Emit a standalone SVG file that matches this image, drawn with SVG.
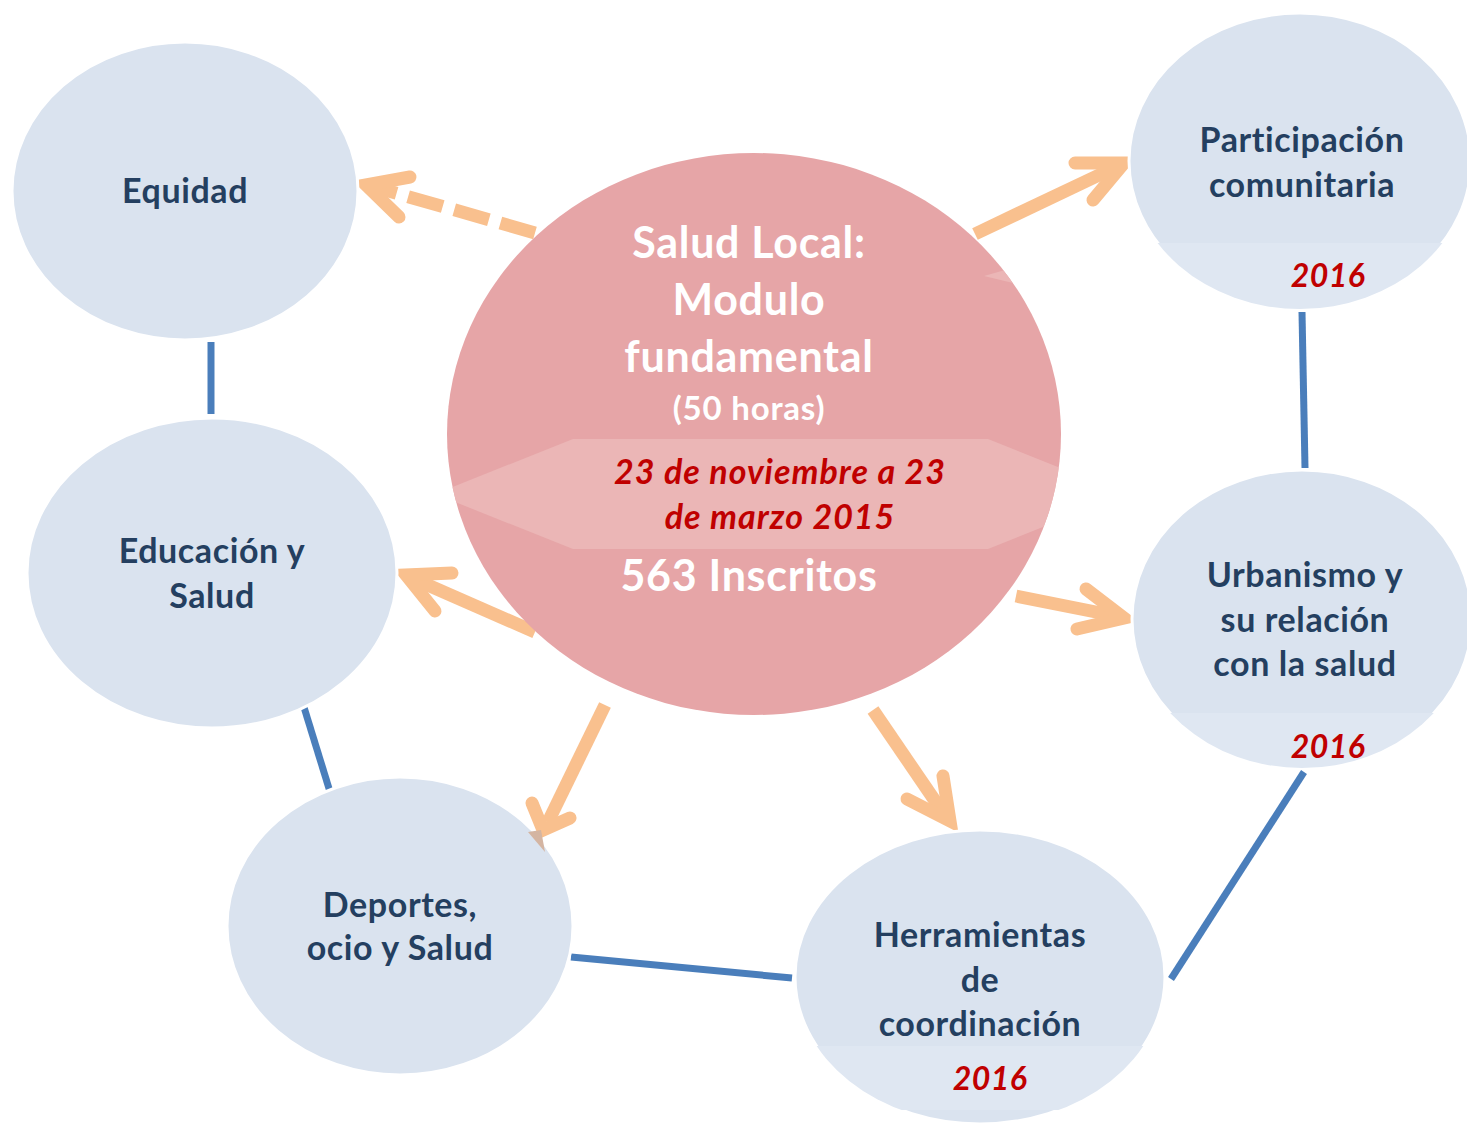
<svg xmlns="http://www.w3.org/2000/svg" width="1467" height="1124" viewBox="0 0 1467 1124">
<style>
  .node { fill: #dae3ef; stroke: #ffffff; stroke-width: 3; }
  .band { fill: #dfe7f2; }
  .lbl { font-family: Lato, "Open Sans", sans-serif; font-weight: 700; font-size: 34px; letter-spacing: 0.6px; fill: #243f60; text-anchor: middle; }
  .yr { font-family: Lato, "Open Sans", sans-serif; font-weight: 700; font-style: italic; font-size: 32px; letter-spacing: 0.4px; fill: #c00000; text-anchor: middle; }
  .ctr { font-family: Lato, "Open Sans", sans-serif; font-weight: 700; font-size: 43px; letter-spacing: 0.7px; fill: #ffffff; text-anchor: middle; }
  .ctrs { font-family: Lato, "Open Sans", sans-serif; font-weight: 700; font-size: 33px; letter-spacing: 0.8px; fill: #ffffff; text-anchor: middle; }
  .date { font-family: Lato, "Open Sans", sans-serif; font-weight: 700; font-style: italic; font-size: 34px; letter-spacing: 1px; fill: #c00000; text-anchor: middle; }
  .link { stroke: #4a7ebb; stroke-width: 7; fill: none; }
  .shaft { stroke: #f9c08e; stroke-width: 13; fill: none; stroke-linecap: butt; }
  .head { stroke: #f9c08e; stroke-width: 13; fill: none; stroke-linecap: round; stroke-linejoin: miter; stroke-miterlimit: 10; }
</style>
<defs>
  <clipPath id="cc"><ellipse cx="754" cy="434" rx="307" ry="281"/></clipPath>
  <clipPath id="cP"><ellipse cx="1300" cy="161" rx="171" ry="148"/></clipPath>
  <clipPath id="cU"><ellipse cx="1302" cy="619" rx="170" ry="149"/></clipPath>
  <clipPath id="cH"><ellipse cx="980" cy="977" rx="185" ry="147"/></clipPath>
</defs>
<rect width="1467" height="1124" fill="#ffffff"/>

<g id="connectors">
  <line class="link" x1="211" y1="342" x2="211" y2="414"/>
  <line class="link" x1="1302" y1="312" x2="1305" y2="468"/>
  <line class="link" x1="303" y1="704" x2="331" y2="795"/>
  <line class="link" x1="571" y1="957" x2="792" y2="978"/>
  <line class="link" x1="1304" y1="772" x2="1171" y2="979"/>

  <line class="shaft" x1="535" y1="233" x2="378" y2="188" stroke-dasharray="36 12"/>
  <polyline class="head" points="410,177 366,185 399,217"/>

  <line class="shaft" x1="975" y1="234" x2="1116" y2="167"/>
  <polyline class="head" points="1075,163 1124,163 1093,200"/>

  <line class="shaft" x1="535" y1="632" x2="414" y2="579"/>
  <polyline class="head" points="452,573 406,575 435,611"/>

  <line class="shaft" x1="605" y1="705" x2="548" y2="822"/>
  <polyline class="head" points="532,803 543,830 570,818"/>

  <line class="shaft" x1="873" y1="710" x2="944" y2="814"/>
  <polyline class="head" points="943,776 950,821 907,799"/>

  <line class="shaft" x1="1016" y1="596" x2="1116" y2="616"/>
  <polyline class="head" points="1086,589 1124,618 1077,629"/>
</g>

<g id="center">
  <ellipse cx="754" cy="434" rx="307" ry="281" fill="#e6a5a7"/>
  <g clip-path="url(#cc)">
    <polygon points="440,492 573,439 988,439 1075,474 1075,514 988,549 573,549 440,496" fill="#ebb6b6"/>
    <polygon points="984,276 1005,270 1013,283" fill="#ebb6b6"/>
  </g>
  <text class="ctr" x="749" y="258">Salud Local:</text>
  <text class="ctr" x="749" y="315">Modulo</text>
  <text class="ctr" x="749" y="372">fundamental</text>
  <text class="ctrs" x="749" y="420">(50 horas)</text>
  <text class="date" x="780" y="484">23 de noviembre a 23</text>
  <text class="date" x="780" y="529">de marzo 2015</text>
  <text class="ctr" x="749" y="591">563 Inscritos</text>
</g>

<g id="equidad">
  <ellipse class="node" cx="185" cy="191" rx="173" ry="149"/>
  <text class="lbl" x="185" y="203">Equidad</text>
</g>

<g id="participacion">
  <ellipse class="node" cx="1300" cy="161" rx="171" ry="148"/>
  <rect class="band" x="1120" y="243" width="360" height="80" clip-path="url(#cP)"/>
  <text class="lbl" x="1302" y="152">Participación</text>
  <text class="lbl" x="1302" y="197">comunitaria</text>
  <text class="yr" x="1328" y="287">2016</text>
</g>

<g id="educacion">
  <ellipse class="node" cx="212" cy="573" rx="185" ry="155"/>
  <text class="lbl" x="212" y="563">Educación y</text>
  <text class="lbl" x="212" y="608">Salud</text>
</g>

<g id="urbanismo">
  <ellipse class="node" cx="1302" cy="619" rx="170" ry="149"/>
  <rect class="band" x="1120" y="713" width="360" height="70" clip-path="url(#cU)"/>
  <text class="lbl" x="1305" y="587">Urbanismo y</text>
  <text class="lbl" x="1305" y="632">su relación</text>
  <text class="lbl" x="1305" y="676">con la salud</text>
  <text class="yr" x="1328" y="758">2016</text>
</g>

<g id="deportes">
  <ellipse class="node" cx="400" cy="926" rx="173" ry="149"/>
  <polygon points="528,832 541,830 545,852" fill="#d4b5a2"/>
  <text class="lbl" x="400" y="917">Deportes,</text>
  <text class="lbl" x="400" y="960">ocio y Salud</text>
</g>

<g id="herramientas">
  <ellipse class="node" cx="980" cy="977" rx="185" ry="147"/>
  <rect class="band" x="790" y="1046" width="380" height="64" clip-path="url(#cH)"/>
  <text class="lbl" x="980" y="947">Herramientas</text>
  <text class="lbl" x="980" y="992">de</text>
  <text class="lbl" x="980" y="1036">coordinación</text>
  <text class="yr" x="990" y="1090">2016</text>
</g>
</svg>
